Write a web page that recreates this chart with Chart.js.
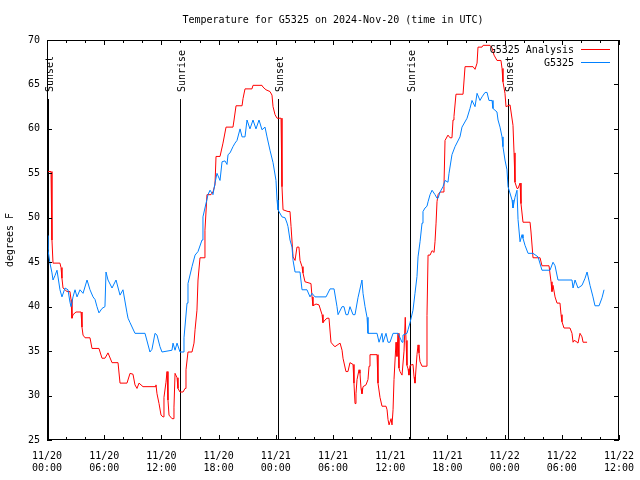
<!DOCTYPE html>
<html><head><meta charset="utf-8">
<script src="https://cdn.jsdelivr.net/npm/chart.js@4.4.1/dist/chart.umd.min.js"></script>
<style>html,body{margin:0;padding:0;background:#fff;}canvas{display:block;}</style>
</head><body>
<canvas id="c" width="640" height="480"></canvas>
<script>
const titleText = 'Temperature for G5325 on 2024-Nov-20 (time in UTC)';
const yAxisTitle = 'degrees F';
const seriesNames = ['G5325 Analysis', 'G5325'];
const seriesColors = ['#ff0000', '#0080ff'];
const xTickLabels = [
  ['11/20','00:00'],['11/20','06:00'],['11/20','12:00'],['11/20','18:00'],
  ['11/21','00:00'],['11/21','06:00'],['11/21','12:00'],['11/21','18:00'],
  ['11/22','00:00'],['11/22','06:00'],['11/22','12:00']
];
const xMin = 0, xMax = 60, xStep = 6;
const yMin = 25, yMax = 70, yStep = 5;
const sunEventHours = [0.10, 13.98, 24.27, 38.11, 48.39];
const sunEventNames = ['Sunset', 'Sunrise', 'Sunset', 'Sunrise', 'Sunset'];

// hours since 11/20 00:00 UTC
const analysisHours = [0.00,0.42,0.52,0.63,1.36,1.47,1.57,1.68,2.10,2.41,2.52,2.62,2.73,3.04,3.57,3.67,3.78,3.99,4.51,4.72,5.45,5.77,6.08,6.40,6.82,7.45,7.66,8.39,8.71,9.02,9.23,9.44,9.65,10.07,11.33,11.43,11.54,11.75,11.96,12.17,12.27,12.48,12.59,12.69,12.80,13.11,13.22,13.32,13.43,13.64,13.74,13.95,14.27,14.48,14.58,14.79,15.21,15.42,15.53,15.73,15.84,16.05,16.47,16.57,16.78,17.20,17.41,17.62,17.73,18.15,18.46,18.78,19.51,19.62,19.83,20.46,20.56,20.77,21.50,21.61,22.55,22.66,22.97,23.39,23.60,23.71,23.92,24.13,24.55,24.65,24.76,25.28,25.49,25.60,25.81,26.02,26.22,26.43,26.54,26.75,26.85,27.06,27.69,27.80,27.90,28.22,28.53,28.85,28.95,29.16,29.37,29.58,29.79,30.00,30.21,30.74,30.95,31.05,31.36,31.57,31.78,32.10,32.20,32.31,32.41,32.52,32.73,32.83,32.94,33.04,33.15,33.46,33.67,33.78,33.88,34.62,34.72,34.93,35.14,35.56,35.67,35.77,35.88,36.09,36.19,36.30,36.40,36.61,36.71,36.82,36.92,37.03,37.24,37.34,37.45,37.58,37.66,37.76,37.87,37.97,38.08,38.39,38.50,38.60,38.81,38.92,39.02,39.13,39.34,39.76,39.86,39.97,40.18,40.39,40.60,40.70,40.81,40.91,41.02,41.23,41.54,41.64,41.75,42.06,42.27,42.48,42.59,42.69,42.90,43.64,43.85,44.69,44.90,45.11,45.21,45.63,45.74,46.47,46.68,46.89,47.20,47.62,47.73,47.83,48.04,48.15,48.57,48.67,48.88,48.99,49.09,49.30,49.41,49.62,49.72,49.93,50.67,50.77,50.98,51.72,51.92,52.66,52.87,52.97,53.08,53.29,53.50,53.81,53.92,54.02,54.23,54.86,55.07,55.18,55.28,55.49,55.70,55.91,56.12,56.23,56.65];
const analysisTemps = [55.2,55.2,47.5,44.9,44.9,44.4,43.2,42.1,41.7,41.7,40.8,38.7,39.1,39.4,39.4,37.7,36.8,36.5,36.5,35.3,35.3,34.2,34.2,34.8,33.7,33.7,31.4,31.4,32.5,32.4,31.2,30.8,31.4,31.0,31.0,31.2,30.2,29.1,27.8,27.6,29.8,31.5,32.7,29.5,27.8,27.4,27.4,28.7,32.5,32.0,30.8,30.4,30.4,30.8,32.9,34.9,34.9,35.9,37.4,39.6,43.0,45.5,45.5,48.6,52.6,52.6,52.9,53.7,56.9,56.9,58.4,60.2,60.2,61.0,62.6,62.6,63.4,64.5,64.5,64.9,64.9,64.7,64.4,64.2,63.8,62.5,61.6,61.2,61.2,53.5,50.9,50.7,50.7,49.0,45.6,45.2,46.7,46.7,45.2,44.5,43.8,42.8,42.6,41.1,40.1,40.3,40.2,39.1,38.2,38.5,38.7,38.7,36.0,35.7,35.5,35.9,35.1,34.2,32.7,32.7,33.7,33.5,31.4,29.1,30.2,31.8,32.9,32.5,30.8,30.2,31.0,31.2,31.8,33.3,34.6,34.6,31.4,29.8,28.8,28.8,28.4,27.3,26.7,27.4,26.7,28.4,31.8,36.0,34.4,37.0,33.1,32.7,32.3,32.3,35.0,38.8,36.2,33.4,33.0,32.3,33.4,33.5,32.1,31.4,34.6,35.7,34.8,33.8,33.3,33.3,39.0,45.8,45.8,46.3,46.1,47.3,49.4,51.8,52.6,52.9,52.9,53.5,58.7,59.3,59.0,59.0,61.0,61.4,63.9,63.9,67.0,67.0,66.7,67.4,69.2,69.2,69.4,69.4,69.1,68.3,67.7,67.7,66.8,65.3,64.0,62.5,62.7,62.7,60.4,57.3,54.0,53.3,53.3,53.9,51.6,49.5,49.5,48.4,45.5,45.5,44.6,44.6,42.8,41.7,42.4,41.1,40.4,40.4,39.1,38.3,37.6,37.6,37.0,36.0,36.2,36.1,35.9,37.0,36.6,36.0,36.0];

const stationHours = [0.00,0.10,0.31,0.52,0.63,0.84,1.05,1.36,1.57,1.89,2.20,2.41,2.52,2.73,2.94,3.15,3.46,3.78,4.20,4.51,4.83,5.04,5.24,5.45,5.77,6.08,6.19,6.40,6.82,7.24,7.66,7.97,8.39,8.50,8.71,9.23,10.28,10.80,11.01,11.33,11.54,11.85,12.06,13.11,13.22,13.43,13.64,13.95,14.27,14.37,14.69,14.79,15.21,15.53,15.84,16.26,16.36,16.57,16.89,17.10,17.41,17.62,17.83,18.15,18.36,18.67,18.88,18.99,19.20,19.51,19.72,19.93,20.25,20.46,20.77,20.98,21.29,21.61,21.92,22.24,22.55,22.87,23.08,23.39,23.71,24.02,24.13,24.23,24.65,24.97,25.18,25.28,25.49,25.70,25.81,26.02,26.54,26.75,27.27,27.59,27.80,28.11,29.27,29.69,30.11,30.42,30.53,30.95,31.15,31.36,31.57,31.78,32.10,32.31,32.62,33.04,33.15,33.36,33.57,33.67,34.62,34.83,35.14,35.25,35.56,35.77,35.98,36.30,36.82,37.24,37.34,37.76,37.87,38.08,38.39,38.60,38.81,38.92,39.13,39.34,39.44,39.65,39.86,39.97,40.18,40.39,40.70,40.91,41.02,41.23,41.54,41.75,42.06,42.17,42.48,42.80,43.32,43.53,44.06,44.37,44.58,44.90,45.11,45.42,45.63,45.95,46.16,46.36,46.68,46.78,47.20,47.31,47.52,47.73,47.83,48.04,48.25,48.36,48.78,48.88,49.09,49.30,49.41,49.62,49.83,49.93,50.14,50.46,50.98,51.51,51.92,52.76,53.08,53.29,53.60,55.07,55.18,55.39,55.70,56.12,56.44,56.65,56.96,57.27,57.48,57.91,58.22,58.43];
const stationTemps = [48.0,46.4,44.9,43.8,43.0,43.5,44.1,41.9,41.1,42.1,41.9,40.5,40.0,41.1,41.9,41.1,41.9,41.5,43.0,41.9,41.1,40.8,40.0,39.3,39.8,40.0,43.9,43.0,42.1,43.0,41.3,41.9,39.3,38.7,38.2,37.0,37.0,34.9,35.2,37.0,36.8,35.5,34.9,35.1,35.9,35.1,35.9,34.9,34.9,36.5,40.4,42.6,44.5,45.8,46.2,47.5,50.1,51.1,52.6,53.1,52.6,53.9,55.0,54.2,56.3,56.4,56.0,57.1,57.3,58.0,58.4,58.7,60.0,59.1,59.1,61.0,60.0,61.0,60.0,61.0,59.9,60.2,59.1,57.6,56.2,54.2,52.0,50.9,50.1,50.0,49.4,49.0,47.5,46.7,45.2,43.9,43.9,41.9,41.9,41.1,41.5,41.1,41.1,42.0,42.0,40.0,39.1,40.0,40.0,39.1,39.1,40.0,39.1,39.1,41.0,43.0,41.5,40.0,38.8,37.0,37.0,36.0,37.0,36.0,37.0,36.0,36.0,37.0,37.0,36.0,36.8,37.0,37.4,38.2,39.6,41.5,43.4,45.6,47.3,49.4,50.7,51.1,51.3,51.8,52.6,53.1,52.6,52.2,52.2,52.9,53.5,54.2,54.0,55.0,57.1,58.0,59.1,60.2,61.2,62.3,63.2,62.5,64.0,63.2,63.6,64.1,64.1,63.2,63.2,62.3,61.9,61.0,60.2,59.1,58.0,56.5,55.4,53.5,52.0,51.1,52.3,53.1,49.8,47.3,48.1,47.7,46.9,46.0,46.0,45.6,44.1,44.1,45.0,44.6,43.0,43.0,42.1,43.0,42.1,42.4,43.2,43.9,42.4,41.1,40.1,40.1,41.0,41.9];

const FONT = { family: '"DejaVu Sans Mono", "Liberation Mono", monospace', size: 10 };
const fontStr = '10px "DejaVu Sans Mono", "Liberation Mono", monospace';

function pairs(xs, ys) { return xs.map((x, i) => ({ x: x, y: ys[i] })); }

const decor = {
  id: 'decor',
  beforeDatasetsDraw(chart) {
    const { ctx, chartArea: a, scales } = chart;
    ctx.save();
    ctx.strokeStyle = '#000'; ctx.lineWidth = 1;
    ctx.fillStyle = '#000'; ctx.font = fontStr;
    sunEventHours.forEach((h, i) => {
      const px = Math.round(scales.x.getPixelForValue(h)) + 0.5;
      ctx.beginPath(); ctx.moveTo(px, 99); ctx.lineTo(px, a.bottom); ctx.stroke();
      ctx.save();
      ctx.translate(px + 2, 92);
      ctx.rotate(-Math.PI / 2);
      ctx.textAlign = 'left'; ctx.textBaseline = 'middle';
      ctx.fillText(sunEventNames[i], 0, 0);
      ctx.restore();
    });
    ctx.restore();
  },
  afterDatasetsDraw(chart) {
    const { ctx, chartArea: a, scales } = chart;
    ctx.save();
    ctx.strokeStyle = '#000'; ctx.lineWidth = 1;
    ctx.strokeRect(Math.round(a.left) + 0.5, Math.round(a.top) + 0.5,
      Math.round(a.right - a.left) - 1, Math.round(a.bottom - a.top) - 1);
    ctx.beginPath();
    for (let h = xMin; h <= xMax; h += 2) {
      const px = Math.round(scales.x.getPixelForValue(h)) + 0.5;
      const len = (h % xStep === 0) ? 5 : 3;
      ctx.moveTo(px, a.bottom); ctx.lineTo(px, a.bottom - len);
      ctx.moveTo(px, a.top); ctx.lineTo(px, a.top + len);
    }
    for (let v = yMin; v <= yMax; v += yStep) {
      const py = Math.round(scales.y.getPixelForValue(v)) + 0.5;
      ctx.moveTo(a.left, py); ctx.lineTo(a.left + 5, py);
      ctx.moveTo(a.right, py); ctx.lineTo(a.right - 5, py);
    }
    ctx.stroke();
    ctx.fillStyle = '#000'; ctx.font = fontStr;
    ctx.textAlign = 'center'; ctx.textBaseline = 'middle';
    ctx.fillText(titleText, (a.left + a.right) / 2, 20);
    ctx.textAlign = 'right';
    seriesNames.forEach((name, i) => {
      const y = 50 + i * 12.7;
      ctx.fillStyle = '#000';
      ctx.fillText(name, 574, y + 0.5);
      ctx.strokeStyle = seriesColors[i];
      ctx.beginPath();
      ctx.moveTo(581, Math.round(y) - 0.5); ctx.lineTo(610, Math.round(y) - 0.5);
      ctx.stroke();
    });
    ctx.restore();
  }
};

new Chart(document.getElementById('c'), {
  type: 'line',
  data: {
    datasets: [
      { label: seriesNames[0], data: pairs(analysisHours, analysisTemps),
        borderColor: seriesColors[0], backgroundColor: seriesColors[0],
        borderWidth: 1, pointRadius: 0, tension: 0, fill: false, order: 2 },
      { label: seriesNames[1], data: pairs(stationHours, stationTemps),
        borderColor: seriesColors[1], backgroundColor: seriesColors[1],
        borderWidth: 1, pointRadius: 0, tension: 0, fill: false, order: 1 }
    ]
  },
  options: {
    responsive: false,
    animation: false,
    devicePixelRatio: 1,
    layout: { padding: { top: 40, right: 21, left: 0, bottom: 0 } },
    plugins: { legend: { display: false }, title: { display: false }, tooltip: { enabled: false } },
    scales: {
      x: {
        type: 'linear', min: xMin, max: xMax,
        grid: { display: true, drawOnChartArea: false, drawTicks: false, color: 'rgba(0,0,0,0)' },
        border: { display: false },
        ticks: {
          stepSize: xStep, autoSkip: false, maxRotation: 0, minRotation: 0,
          color: '#000', font: FONT, padding: 10,
          callback: (v) => xTickLabels[Math.round((v - xMin) / xStep)]
        },
        afterFit(scale) { scale.height = 40; scale.paddingLeft = 0; scale.paddingRight = 0; }
      },
      y: {
        type: 'linear', min: yMin, max: yMax,
        grid: { display: true, drawOnChartArea: false, drawTicks: false, color: 'rgba(0,0,0,0)' },
        border: { display: false },
        ticks: { stepSize: yStep, color: '#000', font: FONT, padding: 7 },
        title: { display: true, text: yAxisTitle, color: '#000', font: FONT, padding: { top: 4, bottom: 0 } },
        afterFit(scale) { scale.width = 47; scale.paddingTop = 0; scale.paddingBottom = 0; }
      }
    }
  },
  plugins: [decor]
});
</script>
</body></html>
